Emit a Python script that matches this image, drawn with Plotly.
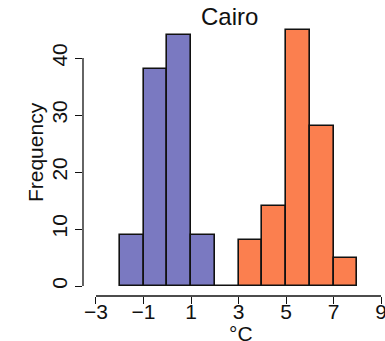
import plotly.graph_objects as go

# Histogram bins (left edges, width 1 degree) and counts
blue_left = [-2, -1, 0, 1, 2]
blue_counts = [9, 38, 44, 9, 0]
orange_left = [3, 4, 5, 6, 7]
orange_counts = [8, 14, 45, 28, 5]

x_ticks = [-3, -1, 1, 3, 5, 7, 9]
y_ticks = [0, 10, 20, 30, 40]

BLUE = "#7a79c1"
ORANGE = "#fb7f4f"
FONT = "Liberation Sans, Arial, sans-serif"

fig = go.Figure()
for lefts, counts, color in [(blue_left, blue_counts, BLUE), (orange_left, orange_counts, ORANGE)]:
    fig.add_trace(go.Bar(
        x=[l + 0.5 for l in lefts],
        y=counts,
        width=1,
        marker=dict(color=color, line=dict(color="#111111", width=1.6)),
        showlegend=False,
        hoverinfo="x+y",
    ))

fig.update_layout(
    width=385, height=341,
    margin=dict(l=83, r=0, t=19, b=45),
    paper_bgcolor="white", plot_bgcolor="white",
    font=dict(family=FONT, size=21, color="#111111"),
    bargap=0,
    xaxis=dict(
        range=[-3.547, 9.168], tickvals=x_ticks, ticks="outside", ticklen=7,
        tickwidth=1.3, tickcolor="#111111", showline=False, showgrid=False,
        zeroline=False, automargin=False, tickfont=dict(size=21),
        ticklabeloverflow="allow", ticklabelstandoff=-10,
    ),
    yaxis=dict(
        range=[-1.754, 46.85], tickvals=y_ticks, ticks="outside", ticklen=7,
        tickwidth=1.3, tickcolor="#111111", showline=False, showgrid=False,
        zeroline=False, automargin=False, tickangle=-90, tickfont=dict(size=21),
    ),
)

# Axis lines spanning only the tick range
fig.add_shape(type="line", xref="x", yref="paper", x0=x_ticks[0], x1=x_ticks[-1], y0=0, y1=0,
              line=dict(color="#111111", width=1.3))
fig.add_shape(type="line", xref="paper", yref="y", x0=0, x1=0, y0=y_ticks[0], y1=y_ticks[-1],
              line=dict(color="#111111", width=1.3))

fig.add_annotation(text="Cairo", xref="x", yref="paper", x=2.6, y=1.0, yshift=3,
                   showarrow=False, font=dict(size=24, family=FONT), xanchor="center", yanchor="middle")
fig.add_annotation(text="°C", xref="x", yref="paper", x=3.1, y=0, yshift=-24,
                   showarrow=False, font=dict(size=21, family=FONT), xanchor="center", yanchor="top")
fig.add_annotation(text="Frequency", xref="paper", yref="y", x=0, xshift=-48, y=23.5,
                   textangle=-90, showarrow=False, font=dict(size=21, family=FONT),
                   xanchor="center", yanchor="middle")

fig.write_html("out.html")
